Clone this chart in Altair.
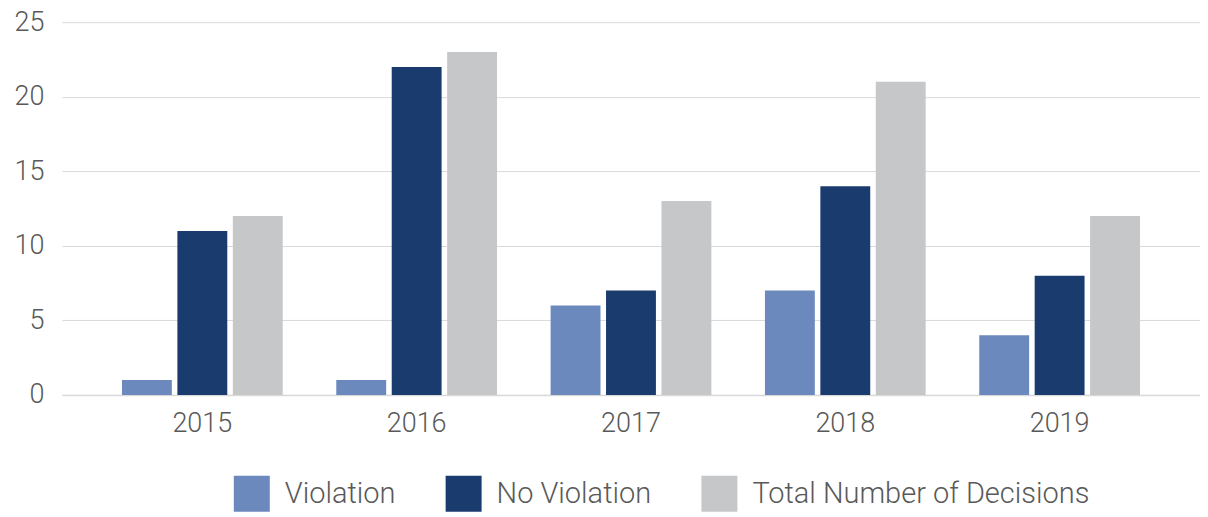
import altair as alt
import pandas as pd

years = ["2015", "2016", "2017", "2018", "2019"]
series = ["Violation", "No Violation", "Total Number of Decisions"]
violation = [1, 1, 6, 7, 4]
no_violation = [11, 22, 7, 14, 8]
total = [12, 23, 13, 21, 12]
colors = ["#6b89bd", "#1a3b6e", "#c6c7c9"]

rows = []
for i, y in enumerate(years):
    for s, vals in zip(series, [violation, no_violation, total]):
        rows.append({"year": y, "series": s, "value": vals[i]})
df = pd.DataFrame(rows)

FONT = "Roboto"
TXT = "#595959"

chart = alt.Chart(df).mark_bar().encode(
    x=alt.X("year:N", title=None, sort=years,
            scale=alt.Scale(paddingInner=0.25, paddingOuter=0.28),
            axis=alt.Axis(labelAngle=0, ticks=False, domainColor="#d9d9d9", domainWidth=1.5,
                          labelPadding=16, labelFontSize=27, labelColor=TXT,
                          labelFont=FONT, labelFontWeight=300)),
    xOffset=alt.XOffset("series:N", sort=series, scale=alt.Scale(paddingInner=0.1, paddingOuter=0)),
    y=alt.Y("value:Q", title=None, scale=alt.Scale(domain=[0, 25]),
            axis=alt.Axis(values=[0, 5, 10, 15, 20, 25], domain=False, ticks=False,
                          gridColor="#d9d9d9", labelPadding=18, labelFontSize=27,
                          labelColor=TXT, labelFont=FONT, labelFontWeight=300)),
    color=alt.Color("series:N", sort=series, title=None,
                    scale=alt.Scale(domain=series, range=colors),
                    legend=alt.Legend(orient="none", legendX=172, legendY=454,
                                      direction="horizontal", symbolType="square",
                                      symbolSize=1296, symbolStrokeWidth=0, labelFontSize=29,
                                      labelColor=TXT, labelFont=FONT, labelFontWeight=300,
                                      labelOffset=15, columnPadding=50, labelLimit=0,
                                      padding=0, symbolOpacity=1)),
).properties(width=1139, height=373, padding={"left": 6, "top": 0, "right": 0, "bottom": 0}
).configure_view(stroke=None)

chart.save("out.html", embed_options={"renderer": "svg", "actions": False})
